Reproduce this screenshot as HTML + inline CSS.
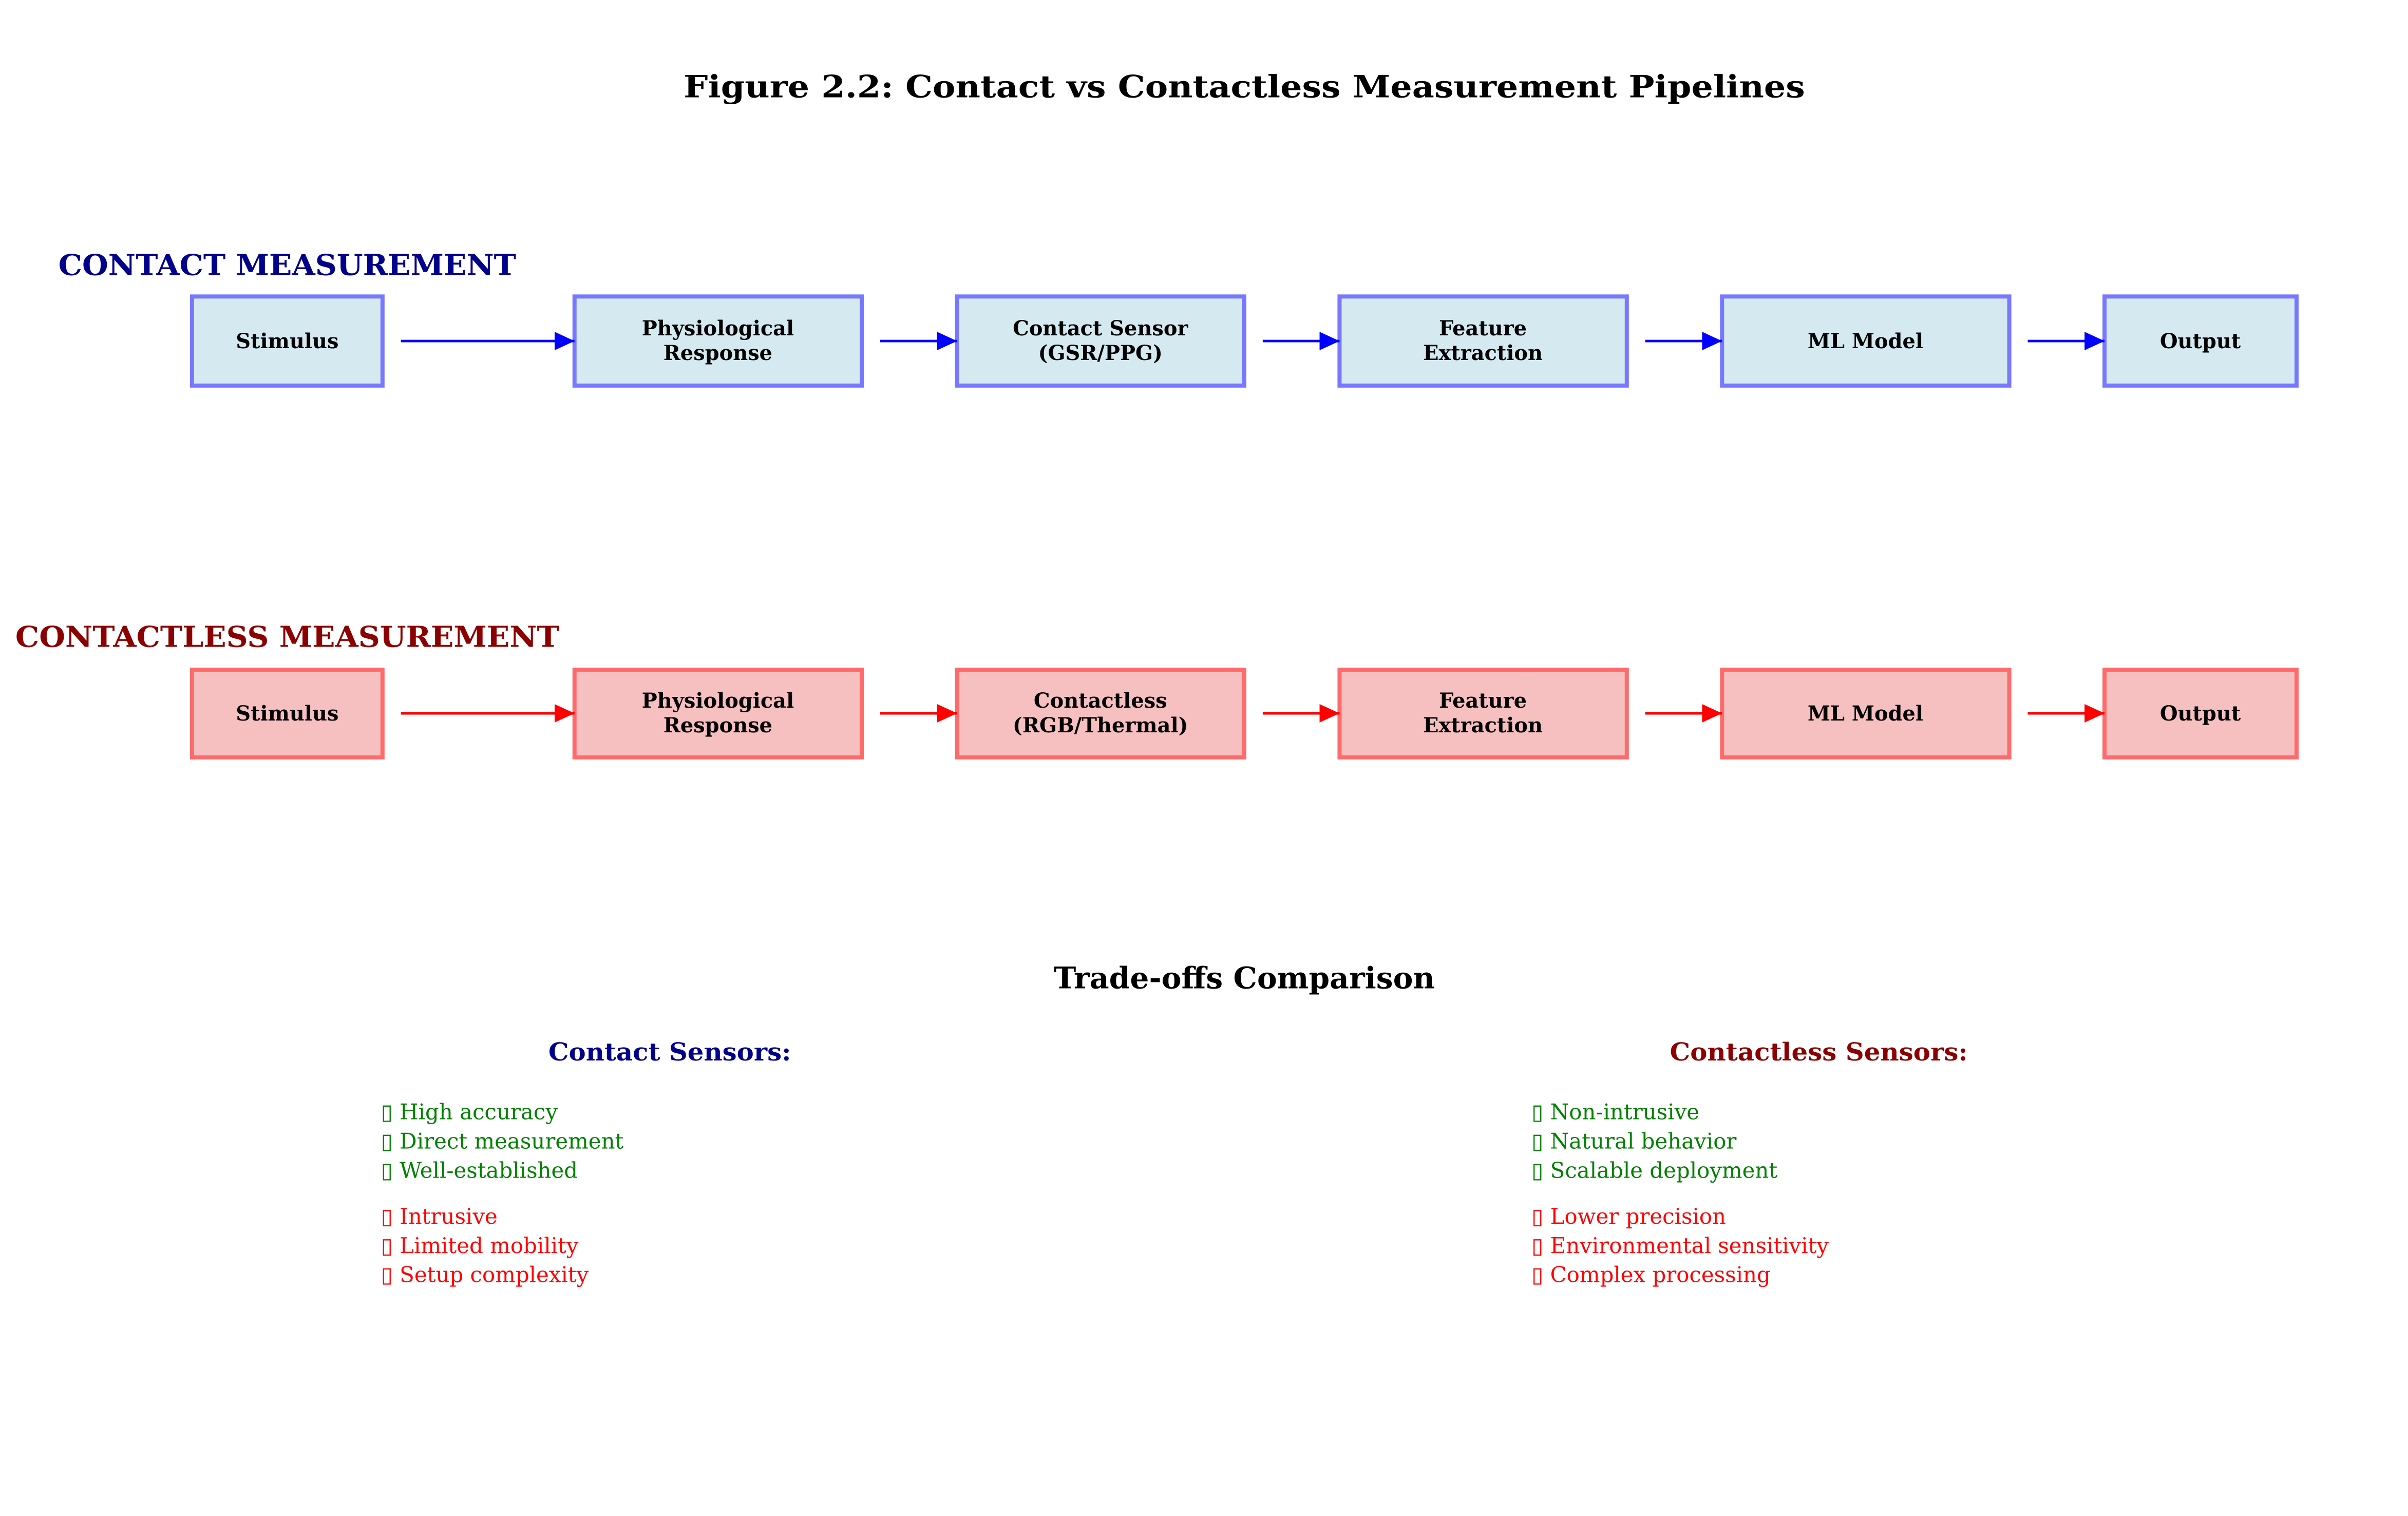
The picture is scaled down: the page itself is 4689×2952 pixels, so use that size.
<!DOCTYPE html>
<html><head><meta charset="utf-8"><style>
html,body{margin:0;padding:0;background:#fff;}
svg{display:block;}
text{font-family:"DejaVu Serif","Liberation Serif",serif;}
</style></head><body>
<svg width="4689" height="2952" viewBox="0 0 4689 2952" xmlns="http://www.w3.org/2000/svg">
<defs>
<marker id="ab" markerWidth="39" markerHeight="36" refX="39" refY="18" orient="auto" markerUnits="userSpaceOnUse" viewBox="0 0 39 36"><path d="M0,0 L39,18 L0,36 z" fill="#0000ff"/></marker>
<marker id="ar" markerWidth="39" markerHeight="36" refX="39" refY="18" orient="auto" markerUnits="userSpaceOnUse" viewBox="0 0 39 36"><path d="M0,0 L39,18 L0,36 z" fill="#ff0000"/></marker>
</defs>
<rect width="4689" height="2952" fill="#fff"/>
<g transform="scale(0.9971)">
<text x="2430" y="190" font-size="60" font-weight="bold" text-anchor="middle" textLength="2190" lengthAdjust="spacingAndGlyphs">Figure 2.2: Contact vs Contactless Measurement Pipelines</text>
<text x="114" y="537" font-size="56" font-weight="bold" fill="#00008b" textLength="894" lengthAdjust="spacingAndGlyphs">CONTACT MEASUREMENT</text>
<text x="30" y="1263" font-size="56" font-weight="bold" fill="#8b0000" textLength="1062" lengthAdjust="spacingAndGlyphs">CONTACTLESS MEASUREMENT</text>

<g stroke="#7777ff" stroke-width="8" fill="#d4eaf0">
<rect x="375" y="579" width="372" height="174"/>
<rect x="1122" y="579" width="561" height="174"/>
<rect x="1869" y="579" width="561" height="174"/>
<rect x="2616" y="579" width="561" height="174"/>
<rect x="3363" y="579" width="561" height="174"/>
<rect x="4110" y="579" width="375" height="174"/>
</g>
<g stroke="#ff6b6b" stroke-width="8" fill="#f6bfc0">
<rect x="375" y="1308" width="372" height="171"/>
<rect x="1122" y="1308" width="561" height="171"/>
<rect x="1869" y="1308" width="561" height="171"/>
<rect x="2616" y="1308" width="561" height="171"/>
<rect x="3363" y="1308" width="561" height="171"/>
<rect x="4110" y="1308" width="375" height="171"/>
</g>
<g stroke="#0000ff" stroke-width="5" marker-end="url(#ab)">
<line x1="783" y1="666" x2="1122" y2="666"/>
<line x1="1719" y1="666" x2="1869" y2="666"/>
<line x1="2466" y1="666" x2="2616" y2="666"/>
<line x1="3213" y1="666" x2="3363" y2="666"/>
<line x1="3960" y1="666" x2="4110" y2="666"/>
</g>
<g stroke="#ff0000" stroke-width="5" marker-end="url(#ar)">
<line x1="783" y1="1393" x2="1122" y2="1393"/>
<line x1="1719" y1="1393" x2="1869" y2="1393"/>
<line x1="2466" y1="1393" x2="2616" y2="1393"/>
<line x1="3213" y1="1393" x2="3363" y2="1393"/>
<line x1="3960" y1="1393" x2="4110" y2="1393"/>
</g>
<g font-size="40" font-weight="bold" text-anchor="middle" fill="#000">
<text x="561" y="680">Stimulus</text>
<text x="1402" y="655">Physiological</text><text x="1402" y="703">Response</text>
<text x="2149" y="655">Contact Sensor</text><text x="2149" y="703">(GSR/PPG)</text>
<text x="2896" y="655">Feature</text><text x="2896" y="703">Extraction</text>
<text x="3643" y="680">ML Model</text>
<text x="4297" y="680">Output</text>
<text x="561" y="1407">Stimulus</text>
<text x="1402" y="1382">Physiological</text><text x="1402" y="1430">Response</text>
<text x="2149" y="1382">Contactless</text><text x="2149" y="1430">(RGB/Thermal)</text>
<text x="2896" y="1382">Feature</text><text x="2896" y="1430">Extraction</text>
<text x="3643" y="1407">ML Model</text>
<text x="4297" y="1407">Output</text>
</g>
<text x="2430" y="1930" font-size="58" font-weight="bold" text-anchor="middle" textLength="744" lengthAdjust="spacingAndGlyphs">Trade-offs Comparison</text>
<text x="1308" y="2071" font-size="48" font-weight="bold" fill="#00008b" text-anchor="middle" textLength="474" lengthAdjust="spacingAndGlyphs">Contact Sensors:</text>
<text x="3552" y="2071" font-size="48" font-weight="bold" fill="#8b0000" text-anchor="middle" textLength="582" lengthAdjust="spacingAndGlyphs">Contactless Sensors:</text>
<g font-size="42">
<g fill="#008000">
<text x="744" y="2186">▯ High accuracy</text>
<text x="744" y="2243">▯ Direct measurement</text>
<text x="744" y="2300">▯ Well-established</text>
<text x="2991" y="2186">▯ Non-intrusive</text>
<text x="2991" y="2243">▯ Natural behavior</text>
<text x="2991" y="2300">▯ Scalable deployment</text>
</g>
<g fill="#ff0000">
<text x="744" y="2390">▯ Intrusive</text>
<text x="744" y="2447">▯ Limited mobility</text>
<text x="744" y="2504">▯ Setup complexity</text>
<text x="2991" y="2390">▯ Lower precision</text>
<text x="2991" y="2447">▯ Environmental sensitivity</text>
<text x="2991" y="2504">▯ Complex processing</text>
</g>
</g>
</g>
</svg>
</body></html>
